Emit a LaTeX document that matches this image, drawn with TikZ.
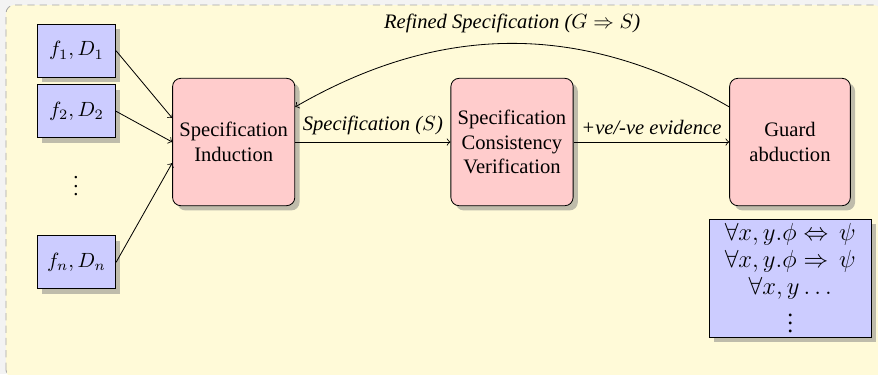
\documentclass[tikz,border=0pt]{standalone}
\usepackage[no-math]{fontspec}
\setmainfont{Liberation Serif}
\usetikzlibrary{shadows}
\definecolor{bgyellow}{RGB}{255,250,216}
\definecolor{outergray}{RGB}{243,243,243}
\begin{document}
\begin{tikzpicture}[
  inbox/.style={draw, fill=blue!20, drop shadow, minimum width=1.34cm, minimum height=0.906cm},
  stage/.style={draw, fill=red!20, rounded corners=4pt, drop shadow, align=center,
    minimum width=2.063cm, minimum height=2.177cm}]

\useasboundingbox (0,0) rectangle (15.005,6.392);
\fill [outergray] (0,0) rectangle (15.005,6.392);
\draw [gray!70, dash pattern=on 3.5pt off 2.5pt, fill=bgyellow, rounded corners=4pt] (0.1025,-0.068) rectangle (15.07,6.306);

\node (fa) at (1.307,5.524) [inbox] {$f_1, D_1$};
\node (fb) at (1.307,4.490) [inbox] {$f_2, D_2$};
\node (fdots) at (1.299,3.316) {$\vdots$};
\node (fn) at (1.307,1.909) [inbox] {$f_n, D_n$};

\node (ind) at (3.994,3.965) [stage] {Specification\\Induction};
\node (ver) at (8.750,3.965) [stage] {Specification\\Consistency\\Verification};
\node (grd) at (13.501,3.965) [stage] {Guard\\abduction};
\node (cands) at (13.506,1.636) [draw, fill=blue!20, drop shadow, align=center, font=\fontsize{11.5}{13}\selectfont,
  inner ysep=1.5pt, minimum width=2.781cm, minimum height=2.017cm]
  {$\forall x,y.\phi \Leftrightarrow\, \psi$\\ $\forall x,y.\phi \Rightarrow\, \psi$\\ $\forall x,y\ldots$\\ $\vdots$};

\draw [->] (fa.east) -- ([yshift=0.41cm]ind.west);
\draw [->] (fb.east) -- (ind.west);
\draw [->] (fn.east) -- ([yshift=-0.36cm]ind.west);
\draw [->] (ind) -- node [above] {\textit{Specification ($S$)}} (ver);
\draw [->] (ver) -- node [above] {\textit{+ve/-ve evidence}} (grd);
\draw [->] ([yshift=0.6cm]grd.west) to [bend right=30]
  node [above, yshift=1.5pt] {\textit{Refined Specification ($G \Rightarrow S$)}} ([yshift=0.6cm]ind.east);

\end{tikzpicture}
\end{document}
